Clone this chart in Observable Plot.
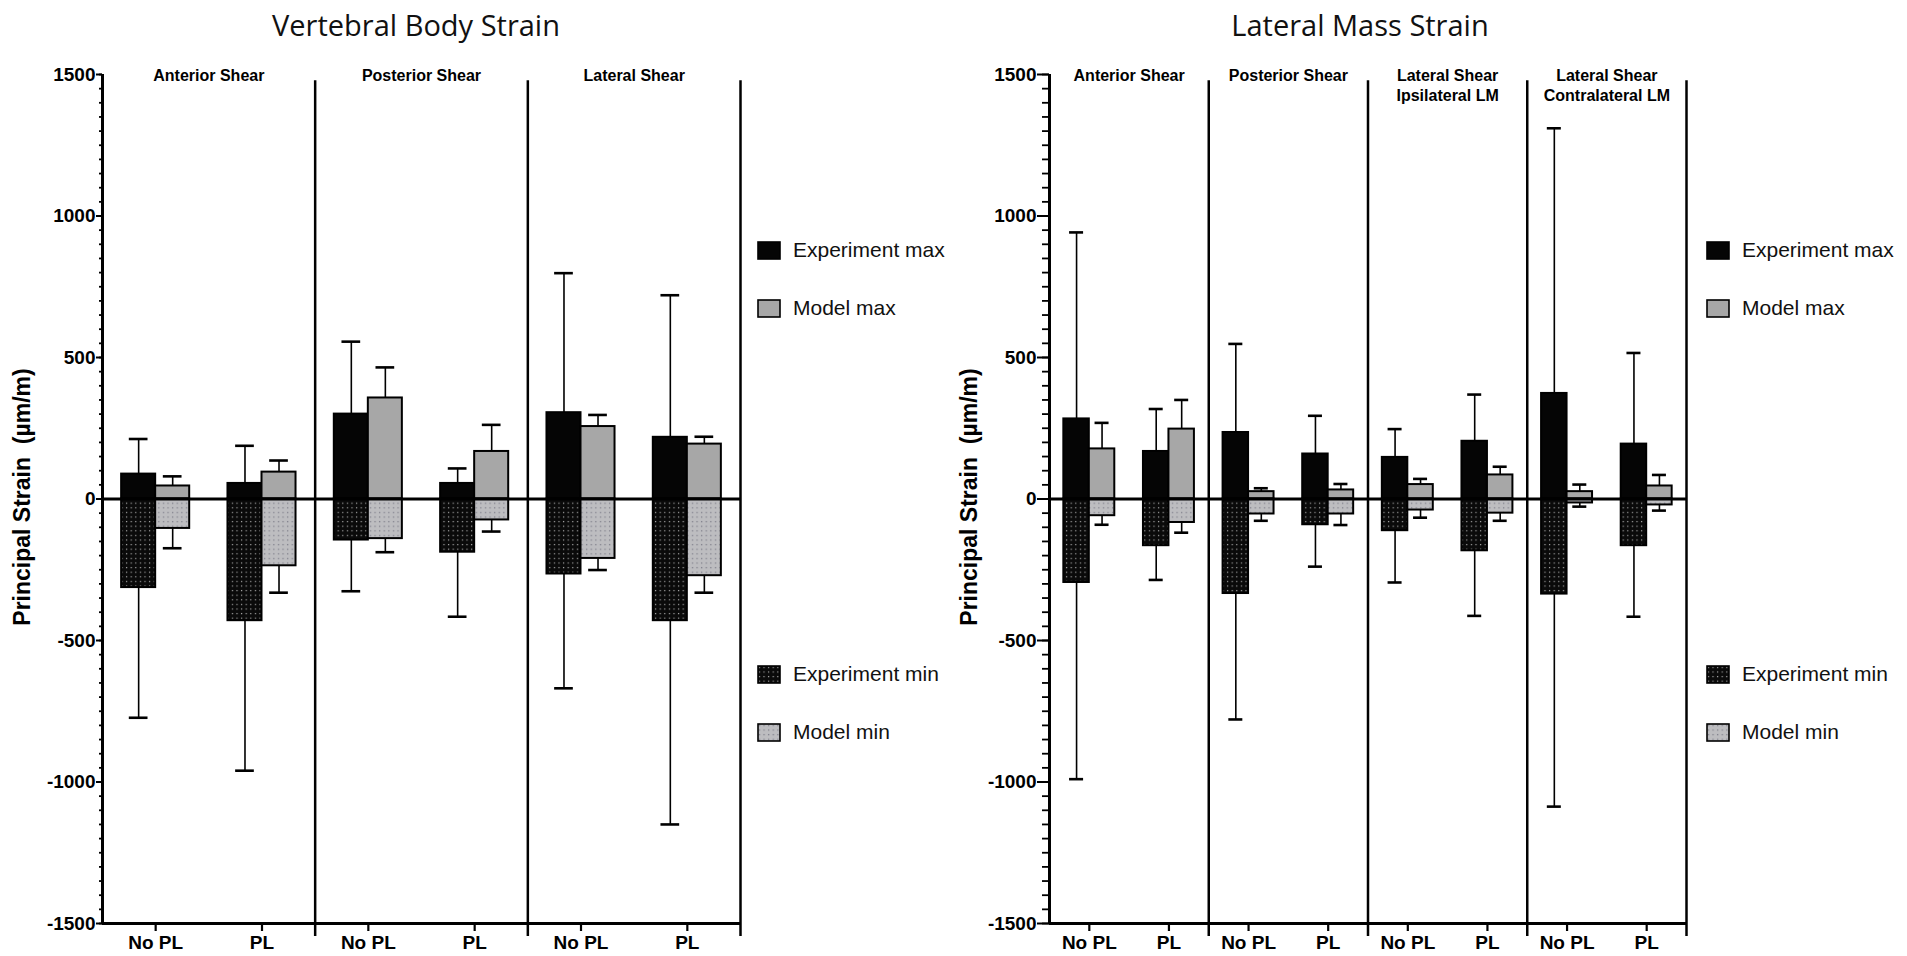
<!DOCTYPE html>
<html>
<head>
<meta charset="utf-8">
<script src="https://cdn.jsdelivr.net/npm/d3@7"></script>
<script src="https://cdn.jsdelivr.net/npm/@observablehq/plot@0.6"></script>
<style>
  html, body { margin: 0; padding: 0; background: #fff; }
  #root { position: relative; width: 1907px; height: 956px; overflow: hidden; font-family: "Liberation Sans", Arial, sans-serif; }
  .title { position: absolute; top: 5px; font-family: "Open Sans", sans-serif; font-size: 29px; color: #111; transform: translateX(-50%); white-space: nowrap; }
  .chart { position: absolute; top: 50px; }
  .legend-item { position: absolute; display: flex; align-items: center; font-size: 21px; color: #111; white-space: nowrap; transform: translateY(-50%); }
  .legend-item svg { margin-right: 12px; }
</style>
</head>
<body>
<div id="root">
  <svg width="0" height="0" style="position:absolute">
    <defs>
      <pattern id="patExpMin" width="4.6" height="4.6" patternUnits="userSpaceOnUse">
        <rect width="4.6" height="4.6" fill="#0a0a0a"></rect>
        <rect x="1.8" y="1.8" width="1.2" height="1.2" fill="#a0a0a0"></rect>
      </pattern>
      <pattern id="patModelMin" width="4.6" height="4.6" patternUnits="userSpaceOnUse">
        <rect width="4.6" height="4.6" fill="#bdbdc0"></rect>
        <rect x="1.8" y="1.8" width="1.3" height="1.3" fill="#85858f"></rect>
      </pattern>
    </defs>
  </svg>
</div>
<script>
// ---------- data ----------
const conditions = ["No PL", "PL"];
const seriesNames = ["Experiment max", "Model max", "Experiment min", "Model min"];

// Vertebral Body Strain (order: group x condition)
const vbGroups = ["Anterior Shear", "Posterior Shear", "Lateral Shear"];
const vbExpMax     = [88, 55, 300, 55, 305, 218];
const vbExpMaxSD   = [124, 133, 256, 53, 493, 502];
const vbModelMax   = [46, 95, 357, 168, 256, 194];
const vbModelMaxSD = [34, 41, 108, 94, 41, 26];
const vbExpMin     = [-313, -430, -145, -188, -265, -430];
const vbExpMinSD   = [460, 530, 181, 228, 404, 720];
const vbModelMin   = [-104, -236, -140, -74, -210, -271];
const vbModelMinSD = [70, 95, 48, 41, 41, 60];

// Lateral Mass Strain
const lmGroups = ["Anterior Shear", "Posterior Shear", "Lateral Shear\nIpsilateral LM", "Lateral Shear\nContralateral LM"];
const lmExpMax     = [283, 168, 235, 159, 147, 204, 373, 194];
const lmExpMaxSD   = [659, 150, 313, 135, 100, 165, 937, 322];
const lmModelMax   = [177, 247, 26, 32, 51, 85, 26, 46];
const lmModelMaxSD = [92, 103, 12, 21, 20, 29, 25, 39];
const lmExpMin     = [-295, -165, -334, -91, -112, -183, -336, -165];
const lmExpMinSD   = [695, 121, 445, 148, 183, 230, 751, 251];
const lmModelMin   = [-59, -83, -53, -53, -39, -50, -14, -21];
const lmModelMinSD = [32, 36, 24, 39, 27, 27, 13, 20];

const yTickLabels = [-1500, -1000, -500, 0, 500, 1000, 1500];
const yLabel = "Principal Strain\u00a0 (µm/m)";

// ---------- styles ----------
const FILLS = {
  "Experiment max": "#050505",
  "Model max": "#a7a7a7",
  "Experiment min": "url(#patExpMin)",
  "Model min": "url(#patModelMin)"
};
const BAR_W = 0.32;   // bar width in category units
const CAP = 0.088;    // half cap width

function buildRows(groups, s) {
  const rows = [];
  groups.forEach((g, gi) => conditions.forEach((c, ci) => {
    const i = gi * 2 + ci;
    const center = i + 0.5;
    const defs = [
      ["Experiment max", s.expMax[i], s.expMaxSD[i], center - BAR_W, center],
      ["Model max", s.modelMax[i], s.modelMaxSD[i], center, center + BAR_W],
      ["Experiment min", s.expMin[i], s.expMinSD[i], center - BAR_W, center],
      ["Model min", s.modelMin[i], s.modelMinSD[i], center, center + BAR_W]
    ];
    for (const [series, v, sd, x1, x2] of defs) {
      const sign = v >= 0 ? 1 : -1;
      rows.push({series, group: g, condition: c, v, end: v + sign * sd, x1, x2, cx: (x1 + x2) / 2});
    }
  }));
  return rows;
}

function makeChart(groups, s, {width, marginLeft, marginRight, majorTick, minorTick}) {
  const n = groups.length;
  const rows = buildRows(groups, s);
  const centers = d3.range(n * 2).map(i => i + 0.5);
  const dividers = d3.range(1, n + 1).map(g => g * 2);
  const bars = seriesNames.map(name =>
    Plot.rectY(rows.filter(d => d.series === name), {
      x1: "x1", x2: "x2", y1: 0, y2: "v",
      fill: FILLS[name], stroke: "#000", strokeWidth: 2
    })
  );
  return Plot.plot({
    width, height: 906,
    marginTop: 24, marginBottom: 33, marginLeft, marginRight,
    style: {fontFamily: "'Liberation Sans', Arial, sans-serif", fontSize: "17px", fontWeight: "bold", color: "#000", background: "transparent"},
    x: {type: "linear", domain: [0, n * 2], axis: null},
    y: {domain: [-1500, 1500], axis: null},
    marks: [
      ...bars,
      Plot.ruleX(rows, {x: "cx", y1: "v", y2: "end", stroke: "#000", strokeWidth: 1.6}),
      Plot.ruleY(rows, {y: "end", x1: d => d.cx - CAP, x2: d => d.cx + CAP, stroke: "#000", strokeWidth: 2.6}),
      Plot.ruleY([0], {stroke: "#000", strokeWidth: 3}),
      Plot.ruleX(dividers, {y1: 1478, y2: -1546, stroke: "#000", strokeWidth: 2.5}),
      Plot.ruleX([0], {y1: -1500, y2: 1500, stroke: "#000", strokeWidth: 3}),
      Plot.ruleY([-1500], {stroke: "#000", strokeWidth: 3}),
      Plot.axisY({ticks: d3.range(-1500, 1501, 50), tickSize: minorTick, tickFormat: () => "", strokeWidth: 1.8, label: null}),
      Plot.axisY({ticks: yTickLabels, tickSize: majorTick, tickPadding: 1, strokeWidth: 2, label: null,
        tickFormat: d => String(d), fontSize: 19, fontWeight: "bold"}),
      Plot.axisX({ticks: centers, tickSize: 8, tickPadding: 4, strokeWidth: 2.2, label: null,
        tickFormat: d => conditions[Math.floor(d) % 2], fontSize: 19, fontWeight: "bold"}),
      Plot.text(groups, {x: (d, i) => i * 2 + 1, y: 1500, text: d => d, lineAnchor: "top", dy: -8,
        fontSize: 16, fontWeight: "bold", lineHeight: 1.25, fill: "#000"}),
      Plot.text([yLabel], {frameAnchor: "left", text: d => d, textAnchor: "middle", dx: -80, dy: -2, rotate: -90,
        fontSize: 23, fontWeight: "bold", fill: "#000"})
    ]
  });
}

const root = document.getElementById("root");

function addTitle(text, cx) {
  const t = document.createElement("div");
  t.className = "title";
  t.style.left = cx + "px";
  t.textContent = text;
  root.appendChild(t);
}

function swatch(fill) {
  return `<svg width="24" height="19"><rect x="1" y="1" width="22" height="17" fill="${fill}" stroke="#000" stroke-width="1.6"></rect></svg>`;
}

function addLegend(left) {
  const ys = [250, 308, 674, 732];
  seriesNames.forEach((name, i) => {
    const it = document.createElement("div");
    it.className = "legend-item";
    it.style.left = left + "px";
    it.style.top = ys[i] + "px";
    it.innerHTML = swatch(FILLS[name]) + `<span>${name}</span>`;
    root.appendChild(it);
  });
}

const vb = makeChart(vbGroups, {
  expMax: vbExpMax, expMaxSD: vbExpMaxSD, modelMax: vbModelMax, modelMaxSD: vbModelMaxSD,
  expMin: vbExpMin, expMinSD: vbExpMinSD, modelMin: vbModelMin, modelMinSD: vbModelMinSD
}, {width: 745, marginLeft: 102, marginRight: 5, majorTick: 6, minorTick: 3});
vb.classList.add("chart");
vb.style.left = "0px";
root.appendChild(vb);

const lm = makeChart(lmGroups, {
  expMax: lmExpMax, expMaxSD: lmExpMaxSD, modelMax: lmModelMax, modelMaxSD: lmModelMaxSD,
  expMin: lmExpMin, expMinSD: lmExpMinSD, modelMin: lmModelMin, modelMinSD: lmModelMinSD
}, {width: 750, marginLeft: 109, marginRight: 4, majorTick: 12, minorTick: 7});
lm.classList.add("chart");
lm.style.left = "940px";
root.appendChild(lm);

addTitle("Vertebral Body Strain", 416);
addTitle("Lateral Mass Strain", 1360);
addLegend(757);
addLegend(1706);
</script>
</body>
</html>
